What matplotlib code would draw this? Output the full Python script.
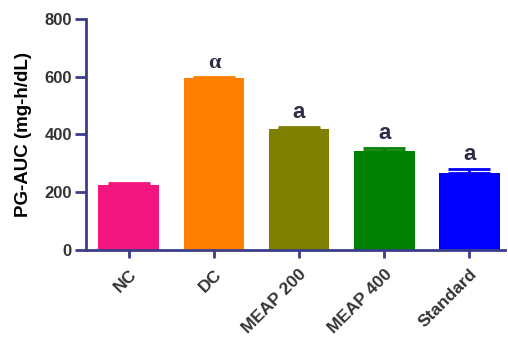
import matplotlib
matplotlib.use('Agg')
import matplotlib.pyplot as plt

groups = ['NC', 'DC', 'MEAP 200', 'MEAP 400', 'Standard']
auc_mean = [224, 594, 418, 343, 268]
auc_sem = [7, 5, 8, 11, 14]
sig_marks = ['', '\u03b1', 'a', 'a', 'a']
bar_colors = ['#F2167E', '#FF8000', '#808000', '#008000', '#0000FF']

axis_color = '#3B3D8C'

plt.rcParams['font.family'] = ['Liberation Sans', 'DejaVu Sans']

fig = plt.figure(figsize=(5.08, 3.37), dpi=100)
ax = fig.add_axes([0.169, 0.258, 0.825, 0.686])

x = range(len(groups))
ax.bar(x, auc_mean, width=0.715, color=bar_colors, zorder=2)

# upper error bars only, same colour as the bar
for i, (m, e, c) in enumerate(zip(auc_mean, auc_sem, bar_colors)):
    ax.errorbar(i, m, yerr=[[0], [e]], fmt='none', ecolor=c,
                elinewidth=2, capsize=15, capthick=2, zorder=3)
    mark = sig_marks[i]
    if mark == '\u03b1':
        ax.text(i, m + e + 14, mark, ha='center', va='bottom', fontsize=16,
                fontweight='bold', color='#2B2B45',
                family=['Liberation Serif', 'DejaVu Serif'])
    elif mark:
        ax.text(i, m + e + 12, mark, ha='center', va='bottom', fontsize=16,
                fontweight='bold', color='#2B2B45')

ax.set_ylim(0, 800)
ax.set_xlim(-0.505, 4.42)
ax.set_yticks([0, 200, 400, 600, 800])
ax.set_xticks(list(x))
ax.set_xticklabels(groups, rotation=45, ha='right', rotation_mode='anchor',
                   fontsize=12.5, fontweight='bold', color='#333333')
for lab in ax.get_yticklabels():
    lab.set_fontsize(12)
    lab.set_fontweight('bold')
    lab.set_color('#333333')

ax.set_ylabel('PG-AUC (mg-h/dL)', fontsize=13.5, fontweight='bold', labelpad=9)

for side in ['top', 'right']:
    ax.spines[side].set_visible(False)
for side in ['left', 'bottom']:
    ax.spines[side].set_color(axis_color)
    ax.spines[side].set_linewidth(2)
ax.tick_params(axis='y', length=8, width=2, color=axis_color, pad=2)
ax.tick_params(axis='x', length=6, width=2, color=axis_color, pad=6)

fig.savefig('out.png', dpi=100)
